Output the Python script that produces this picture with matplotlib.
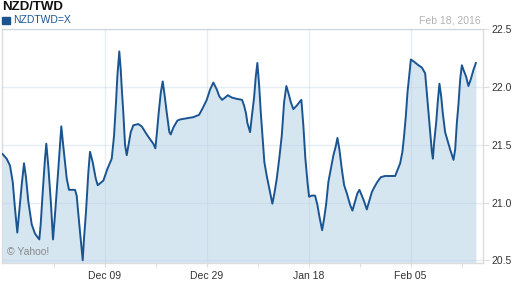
import matplotlib
matplotlib.use("Agg")
import matplotlib.pyplot as plt
from matplotlib.patches import Rectangle

plt.rcParams["font.family"] = ["Liberation Sans", "DejaVu Sans"]

# trading days since Nov 19, 2015 (weekends skipped, like the Yahoo axis)
days = [0.0, 0.56, 1.02, 1.39, 1.70, 2.02, 2.29, 2.62, 2.94, 3.21, 3.53, 4.00, 4.45,
        5.04, 5.23, 5.51, 5.82, 6.00, 6.27, 6.65, 6.92, 7.19, 7.65, 8.06, 8.33, 8.80,
        9.12, 9.94, 10.17, 10.53, 10.81, 11.00, 11.18, 11.45, 11.77, 12.00, 12.37,
        12.78, 13.06, 13.83, 14.38, 14.98, 15.30, 15.57, 15.75, 16.02, 16.22, 16.35,
        16.57, 16.81, 17.04, 17.26, 17.59, 17.95, 18.63, 19.10, 19.79, 20.34, 20.69,
        20.97, 21.16, 21.43, 21.71, 21.98, 22.26, 22.53, 22.89, 23.08, 23.44, 23.99,
        24.36, 25.28, 26.18, 26.97, 27.48, 28.02, 28.48, 28.93, 29.40, 29.75, 30.13,
        30.54, 30.91, 31.46, 32.05, 32.87, 33.15, 33.42, 33.60, 33.97, 34.20, 34.52,
        34.75, 34.97, 35.21, 35.44, 35.71, 35.93, 36.26, 36.62, 37.03, 37.31, 37.64,
        37.99, 38.32, 38.64, 38.95, 39.23, 39.56, 39.91, 40.38, 40.74, 41.01, 41.29,
        41.56, 41.89, 42.07, 42.44, 42.89, 43.21, 43.48, 43.86, 44.13, 44.40, 44.72,
        45.05, 45.41, 45.74, 45.96, 46.23, 46.56, 46.88, 47.25, 47.70, 48.02, 48.39,
        48.70, 48.98, 49.31, 49.62, 49.99, 50.31, 50.68, 51.00, 51.45, 51.92, 52.51,
        53.43, 53.88, 54.19, 54.57, 54.88, 55.11, 55.35, 55.57, 55.80, 56.04, 56.49,
        57.08, 57.55, 58.00, 58.23, 58.45, 58.69, 58.92, 59.06, 59.23, 59.51, 59.74,
        59.96, 60.20, 60.43, 60.74, 61.06, 61.43, 61.89, 62.12, 62.35, 62.57, 62.81,
        63.04, 63.26, 63.63, 63.94, 64.27, 64.63, 64.96]

rate = [21.42, 21.38, 21.32, 21.18, 20.95, 20.74, 20.92, 21.15, 21.34, 21.22, 21.01,
        20.81, 20.73, 20.68, 20.81, 21.09, 21.38, 21.51, 21.32, 20.98, 20.68, 20.89,
        21.29, 21.66, 21.49, 21.21, 21.11, 21.11, 21.06, 20.81, 20.63, 20.50, 20.69,
        20.92, 21.26, 21.44, 21.35, 21.21, 21.15, 21.19, 21.29, 21.38, 21.58, 21.87,
        22.09, 22.31, 22.15, 22.00, 21.78, 21.50, 21.41, 21.49, 21.61, 21.67, 21.68,
        21.66, 21.59, 21.54, 21.51, 21.47, 21.59, 21.78, 21.95, 22.05, 21.92, 21.78,
        21.61, 21.59, 21.65, 21.71, 21.72, 21.73, 21.74, 21.76, 21.82, 21.89, 21.98,
        22.04, 21.98, 21.92, 21.89, 21.91, 21.93, 21.91, 21.90, 21.89, 21.84, 21.77,
        21.69, 21.61, 21.74, 21.91, 22.09, 22.21, 22.02, 21.78, 21.54, 21.35, 21.23,
        21.12, 20.99, 21.08, 21.21, 21.39, 21.58, 21.87, 22.01, 21.95, 21.87, 21.81,
        21.84, 21.87, 21.89, 21.66, 21.38, 21.15, 21.05, 21.06, 21.06, 20.98, 20.88,
        20.76, 20.86, 20.98, 21.18, 21.29, 21.41, 21.49, 21.56, 21.46, 21.29, 21.15,
        21.08, 20.98, 20.93, 21.01, 21.08, 21.11, 21.06, 21.01, 20.94, 21.01, 21.09,
        21.13, 21.18, 21.22, 21.23, 21.23, 21.23, 21.28, 21.34, 21.44, 21.58, 21.75,
        21.95, 22.09, 22.24, 22.22, 22.19, 22.17, 22.12, 21.95, 21.78, 21.61, 21.44,
        21.38, 21.52, 21.69, 21.88, 22.03, 21.92, 21.77, 21.61, 21.54, 21.46, 21.37,
        21.46, 21.69, 21.85, 22.07, 22.19, 22.15, 22.09, 22.01, 22.07, 22.15, 22.21]

major_days = [14, 28, 42, 56]
major_labels = ["Dec 09", "Dec 29", "Jan 18", "Feb 05"]
minor_days = [7, 21, 35, 49, 63]
y_ticks = [20.5, 21.0, 21.5, 22.0, 22.5]

line_col = "#1b5591"
fill_col = "#d6e6f1"

fig = plt.figure(figsize=(5.12, 2.88), dpi=100)
ax = fig.add_axes([0.0039, 0.0885, 0.9389, 0.8091])

ax.fill_between(days, rate, 20.0, color=fill_col, lw=0, zorder=1)
ax.plot(days, rate, color=line_col, lw=1.4, zorder=3)

ax.set_xlim(-0.08, 65.9)
ax.set_ylim(20.48, 22.5)

ax.set_xticks(major_days)
ax.set_xticklabels(major_labels)
ax.set_xticks(minor_days, minor=True)
ax.set_yticks(y_ticks)
ax.set_yticklabels(["%.1f" % v for v in y_ticks])
ax.yaxis.tick_right()

ax.tick_params(axis="x", which="both", length=3, width=0.8, color="#dddddd",
               labelsize=7.5, labelcolor="#333333", pad=3)
ax.tick_params(axis="y", length=4, width=0.8, color="#dddddd",
               labelsize=7.5, labelcolor="#333333", pad=2)

ax.grid(True, which="major", color="#b9cfe3", alpha=0.35, lw=1.0, zorder=2)
ax.set_axisbelow(False)
for s in ax.spines.values():
    s.set_color("#dddddd")
    s.set_linewidth(1.0)

fig.text(0.004, 0.977, "NZD/TWD", fontsize=9.5, fontweight="bold", color="#111111",
         va="center", ha="left")
fig.patches.append(Rectangle((0.0045, 0.916), 0.0145, 0.026, transform=fig.transFigure,
                             color=line_col))
fig.text(0.025, 0.929, "NZDTWD=X", fontsize=7.5, color=line_col, va="center", ha="left")
fig.text(0.938, 0.929, "Feb 18, 2016", fontsize=7.5, color="#b3b3b3", va="center",
         ha="right")
ax.text(0.011, 0.045, "© Yahoo!", transform=ax.transAxes, fontsize=7.5,
        color="#888888", va="center", ha="left", zorder=4)

fig.savefig("out.png", dpi=100)
